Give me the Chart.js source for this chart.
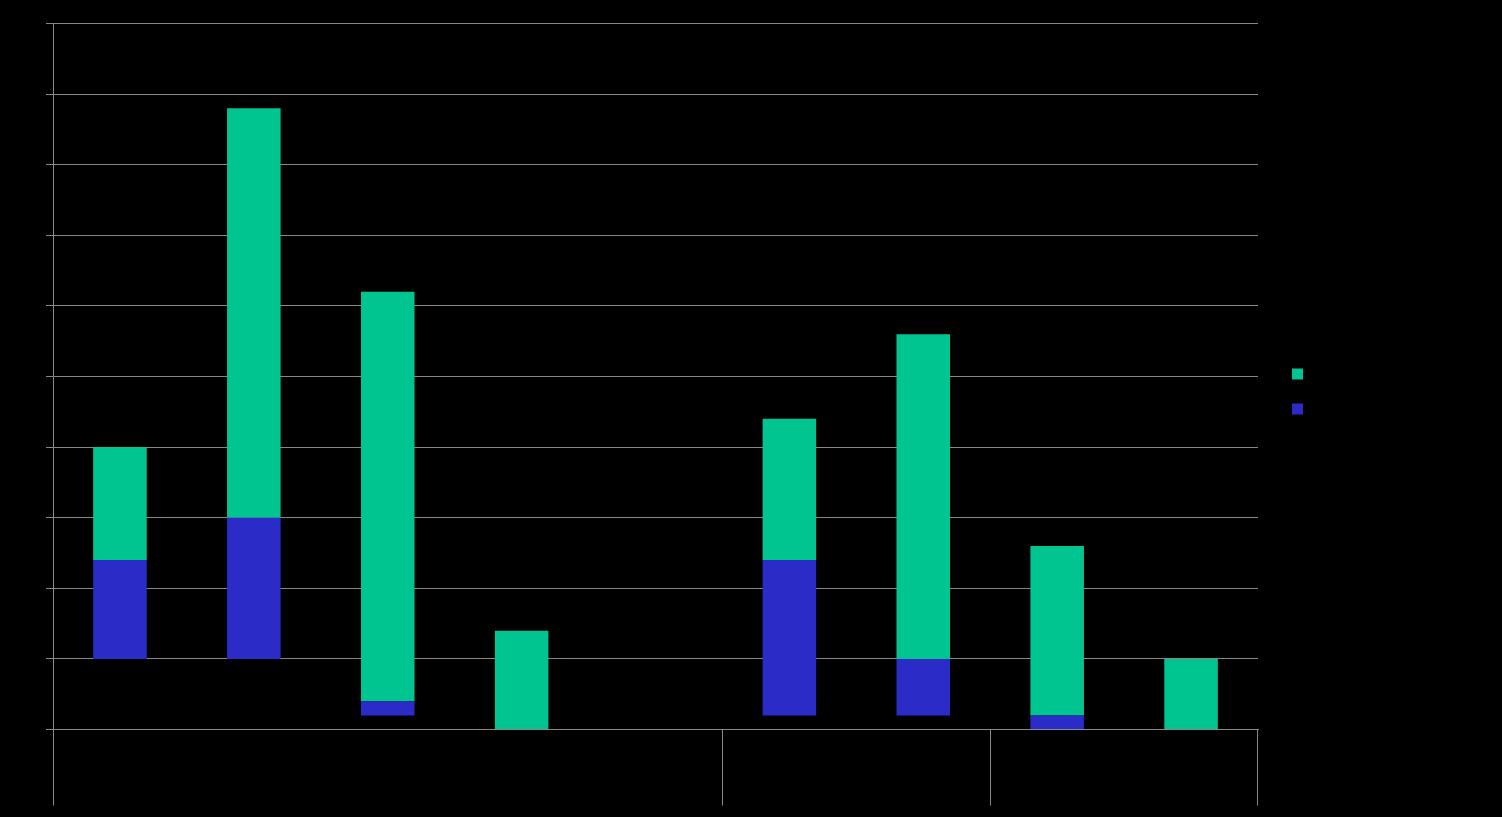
<!DOCTYPE html>
<html lang="en">

<head>
    <meta charset="UTF-8">
    <title>Stacked floating bars</title>
    <script src="https://cdn.jsdelivr.net/npm/chart.js"></script>
    <style>
        * {
            margin: 0;
            padding: 0;
            box-sizing: border-box;
        }

        body {
            background-color: #000;
            overflow: hidden;
        }

        .chart-container {
            position: relative;
            width: 1502px;
            height: 817px;
        }
    </style>
</head>

<body>
    <div class="chart-container">
        <canvas id="barChart"></canvas>
    </div>

    <script>
        // 9 category slots, the 5th is empty; groups split after slot 5 and slot 7
        const categories = ['', '', '', '', '', '', '', '', ''];
        const groupEdges = [0, 5, 7, 9];

        // invisible offset each bar floats on, then the two visible series
        const baseValues = [10, 10, 2, 0, null, 2, 2, 0, 0];
        const blueValues = [14, 20, 2, 0, null, 22, 8, 2, 0];
        const greenValues = [16, 58, 58, 14, null, 20, 46, 24, 10];

        const gridColor = '#888888';

        // empty box on the right, keeps a gap between plot and legend
        const spacer = {
            position: 'right',
            display: true,
            grid: { display: false },
            border: { display: false },
            ticks: { display: false },
            afterFit: scale => { scale.width = 13; }
        };

        // the closing line after the last category has no tick context
        function edgeColor(c) {
            const i = c.type === 'tick' ? c.index : categories.length;
            return groupEdges.includes(i) ? gridColor : 'rgba(0,0,0,0)';
        }

        const ctx = document.getElementById('barChart').getContext('2d');
        new Chart(ctx, {
            type: 'bar',
            data: {
                labels: categories,
                datasets: [
                    { label: 'base', data: baseValues, backgroundColor: 'rgba(0,0,0,0)' },
                    { label: '', data: blueValues, backgroundColor: '#2b2bc8' },
                    { label: '', data: greenValues, backgroundColor: '#00c590' }
                ]
            },
            options: {
                responsive: true,
                maintainAspectRatio: false,
                animation: false,
                datasets: {
                    bar: { categoryPercentage: 1, barPercentage: 0.4 }
                },
                layout: {
                    padding: { top: 23.5, left: 46, right: 182, bottom: 11.5 }
                },
                scales: {
                    x: {
                        stacked: true,
                        offset: true,
                        grid: {
                            offset: true,
                            drawOnChartArea: false,
                            tickLength: 76,
                            color: edgeColor
                        },
                        border: { color: gridColor },
                        ticks: { display: false }
                    },
                    y: {
                        stacked: true,
                        min: 0,
                        max: 100,
                        grid: { color: gridColor, tickLength: 7 },
                        border: { color: gridColor },
                        ticks: { display: false, stepSize: 10 }
                    },
                    spacer: spacer
                },
                plugins: {
                    tooltip: { enabled: false },
                    legend: {
                        position: 'right',
                        fullSize: false,
                        reverse: true,
                        title: { display: true, text: '', font: { size: 10 }, padding: { top: 9, bottom: 9 } },
                        labels: {
                            boxWidth: 11,
                            boxHeight: 11,
                            padding: 21,
                            font: { size: 14 },
                            color: '#000',
                            filter: item => item.text !== 'base'
                        }
                    }
                }
            }
        });
    </script>
</body>

</html>
